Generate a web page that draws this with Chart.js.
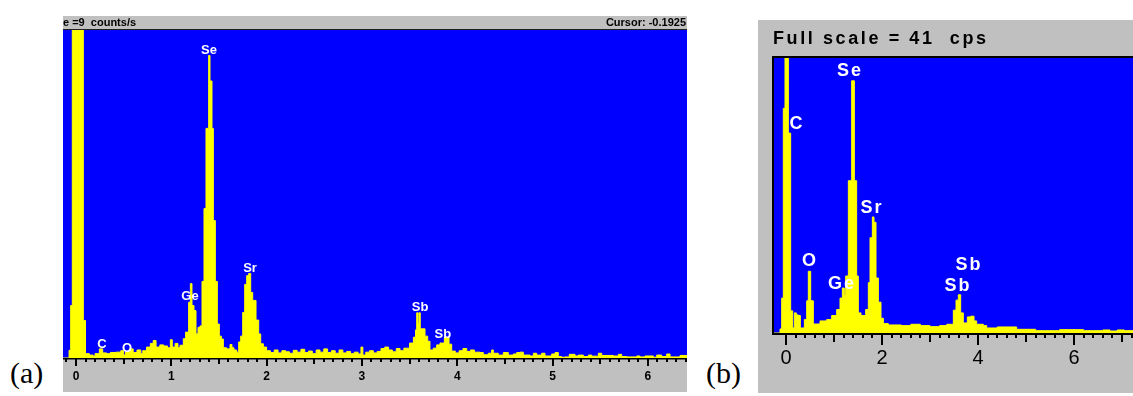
<!DOCTYPE html>
<html>
<head>
<meta charset="utf-8">
<script src="https://cdn.jsdelivr.net/npm/chart.js@4.4.1/dist/chart.umd.min.js"></script>
<style>
html,body{margin:0;padding:0;background:#fff;width:1133px;height:396px;overflow:hidden;position:relative;}
.abs{position:absolute;}
#panelA{left:63px;top:16px;width:624px;height:376px;background:#c0c0c0;}
#panelB{left:758px;top:20px;width:375px;height:373px;background:#c0c0c0;}
canvas{display:block;}
.hdrA{font-family:'Liberation Sans',Arial,sans-serif;font-weight:bold;font-size:11px;line-height:13px;color:#000;white-space:pre;}
.hdrB{font-family:'Liberation Sans',Arial,sans-serif;font-weight:bold;font-size:18px;line-height:22px;letter-spacing:2.6px;color:#000;white-space:pre;}
.plab{font-family:'Liberation Serif','Times New Roman',serif;font-size:30px;line-height:34px;color:#000;}
</style>
</head>
<body>
<div id="panelA" class="abs"><canvas id="cA" width="624" height="376"></canvas></div>
<div id="panelB" class="abs"><canvas id="cB" width="375" height="373"></canvas></div>
<div class="abs hdrA" style="left:63px;top:16px;">e =9  counts/s</div>
<div class="abs hdrA" style="right:447px;top:16px;text-align:right;">Cursor: -0.1925</div>
<div class="abs hdrB" style="left:773px;top:27px;">Full scale = 41  cps</div>
<div class="abs plab" style="left:10px;top:356px;">(a)</div>
<div class="abs plab" style="left:706px;top:356px;">(b)</div>
<script>
// ---------- Panel (a): energy (keV, bin start) and count rate (counts/s) ----------
const energyA = [
 -0.14,-0.073,-0.056,-0.039,0.077,0.10,0.14,0.18,0.20,0.245,0.28,0.32,0.36,0.42,0.47,0.50,0.52,0.56,0.60,0.64,
 0.68,0.70,0.74,0.78,0.81,0.84,0.88,0.92,0.96,0.99,1.01,1.04,1.07,1.091,1.126,1.150,1.182,1.200,1.217,1.238,
 1.259,1.280,1.301,1.322,1.343,1.364,1.392,1.406,1.427,1.441,1.462,1.483,1.504,1.525,1.546,1.581,1.616,1.637,1.658,1.686,
 1.707,1.728,1.749,1.770,1.791,1.812,1.833,1.854,1.889,1.917,1.938,1.966,2.00,2.04,2.08,2.12,2.16,2.20,2.24,2.28,
 2.32,2.36,2.40,2.44,2.48,2.52,2.56,2.60,2.64,2.68,2.72,2.76,2.80,2.84,2.88,2.92,2.96,2.99,3.01,3.04,
 3.08,3.12,3.16,3.20,3.24,3.28,3.32,3.36,3.40,3.44,3.50,3.54,3.562,3.575,3.588,3.598,3.612,3.662,3.690,3.714,
 3.749,3.784,3.819,3.865,3.914,3.942,3.98,4.02,4.06,4.10,4.14,4.18,4.239,4.274,4.326,4.361,4.379,4.431,4.484,4.536,
 4.589,4.624,4.659,4.694,4.764,4.799,4.834,4.886,4.921,4.991,5.026,5.061,5.096,5.131,5.176,5.236,5.271,5.323,5.376,5.411,
 5.481,5.516,5.638,5.691,5.726,5.778,5.883,5.918,5.970,6.058,6.093,6.145,6.198,6.233,6.338,6.42
];
const countsA = [
 0,0.21,1.44,12,1.03,0.12,0.08,0.05,0.12,0.25,0.14,0.12,0.15,0.16,0.20,0.08,0.17,0.25,0.15,0.22,
 0.12,0.20,0.30,0.40,0.48,0.30,0.36,0.33,0.28,0.50,0.30,0.40,0.28,0.35,0.53,0.71,1.53,2.04,1.44,1.30,
 0.66,0.84,0.88,2.10,4.10,6.30,8.30,7.60,6.30,3.77,2.10,0.93,0.60,0.52,0.28,0.25,0.37,0.28,0.22,0.16,
 0.44,0.60,1.25,2.02,2.26,2.32,1.80,1.58,1.04,0.66,0.39,0.30,0.20,0.15,0.22,0.14,0.20,0.17,0.13,0.21,
 0.16,0.24,0.15,0.19,0.12,0.22,0.16,0.25,0.15,0.20,0.13,0.22,0.14,0.18,0.12,0.16,0.11,0.30,0.08,0.16,
 0.20,0.14,0.18,0.26,0.30,0.22,0.17,0.26,0.20,0.27,0.41,0.57,0.77,1.24,0.95,1.24,0.80,0.60,0.46,0.22,
 0.27,0.36,0.41,0.57,0.38,0.19,0.14,0.20,0.26,0.18,0.22,0.16,0.15,0.09,0.13,0.22,0.13,0.08,0.15,0.08,
 0.11,0.15,0.16,0.08,0.055,0.13,0.08,0.13,0.055,0.11,0.15,0.04,0.02,0.03,0.10,0.055,0.08,0.04,0.08,0.05,
 0.13,0.07,0.055,0.10,0.04,0.03,0.055,0.03,0.055,0.02,0.08,0.04,0.11,0.03,0.07,0.07
];
const ticksA = [0,1,2,3,4,5,6];
const peakNamesA = ['Se','Ge','Sr','C','O','Sb','Sb'];
const peakKeVA   = [1.396,1.196,1.826,0.273,0.535,3.61,3.85];
const peakCpsA   = [8.45,1.70,2.46,0.36,0.27,1.39,0.66];

// ---------- Panel (b): energy (keV, bin start) and count rate (cps) ----------
const energyB = [
 -0.25,-0.125,-0.090,-0.056,-0.021,0.049,0.097,0.139,0.174,0.215,0.257,0.299,0.382,0.431,0.465,0.514,0.569,0.708,0.847,0.951,
 1.056,1.125,1.174,1.215,1.243,1.299,1.368,1.424,1.472,1.507,1.563,1.660,1.715,1.750,1.799,1.833,1.875,1.924,1.979,2.028,
 2.132,2.4,2.6,2.8,3.0,3.2,3.35,3.486,3.542,3.590,3.639,3.694,3.778,3.847,3.917,3.972,4.111,4.181,4.4,4.806,
 5.2,5.7,6.2,6.6,6.75,6.9,7.05,7.23
];
const countsB = [
 0,0.6,5.2,33.5,60,29.8,3.3,0.75,3.0,2.7,2.6,0.75,2.0,4.8,9.2,4.8,1.34,1.8,2.0,2.6,
 3.5,5.2,6.7,5.7,8.5,22.7,37.6,22.7,8.5,3.0,2.6,3.5,7.5,14.2,17.3,16.5,8.2,4.6,2.2,1.4,
 1.2,1.1,1.3,1.1,0.95,1.1,1.3,3.4,4.9,5.7,3.0,1.5,2.4,2.5,1.8,1.3,1.1,0.75,0.9,0.55,
 0.35,0.5,0.35,0.45,0.3,0.45,0.35,0.35
];
const ticksB = [0,2,4,6];
const peakNamesB = ['Se','C','O','Ge','Sr','Sb','Sb'];
const peakKeVB   = [1.333,0.229,0.50,1.167,1.792,3.81,3.583];
const peakCpsB   = [39.06,31.16,10.73,7.31,18.64,10.14,7.01];

function pts(xs, ys){ const n=Math.min(xs.length, ys.length); const out=[]; for(let i=0;i<n;i++) out.push({x:xs[i], y:ys[i]}); return out; }

function panelPlugin(o){
  return {
    id:'panel_'+o.name,
    beforeDatasetsDraw(chart){
      const a=chart.chartArea, c=chart.ctx;
      c.save(); c.fillStyle='#0000ff'; c.fillRect(a.left,a.top,a.right-a.left,a.bottom-a.top); c.restore();
    },
    afterDraw(chart){
      const a=chart.chartArea, c=chart.ctx, xs=chart.scales.x, ys=chart.scales.y;
      c.save();
      c.fillStyle='#000';
      if(o.name==='A'){
        c.fillStyle='#202020';
        c.fillRect(a.left, a.top-1, a.right-a.left, 1);
        c.fillStyle='#000';
        c.fillRect(a.left, a.bottom, a.right-a.left, 1.5);
      } else {
        c.fillRect(a.left-2, a.top-2, 2, a.bottom-a.top+4);
        c.fillRect(a.left-2, a.top-2, a.right-a.left+2, 2);
        c.fillRect(a.left-2, a.bottom, a.right-a.left+2, 2);
      }
      const kmin=Math.ceil(xs.min/o.minor), kmax=Math.floor(xs.max/o.minor);
      for(let k=kmin;k<=kmax;k++){
        if(k<o.firstK) continue;
        const v=k*o.minor, px=xs.getPixelForValue(v);
        let len=o.lenMinor;
        if(k%o.majorEvery===0) len=o.lenMajor; else if(k%o.midEvery===0) len=o.lenMid;
        c.fillRect(Math.round(px)-1, a.bottom, 2, len);
      }
      c.font=o.tickFont; c.textAlign='center'; c.textBaseline='middle'; c.fillStyle='#000';
      o.ticks.forEach(t=>{ c.fillText(String(t), xs.getPixelForValue(t), a.bottom+o.labelOffset); });
      c.font=o.peakFont; c.fillStyle='#ffffff';
      if(o.peakSpacing) c.letterSpacing=o.peakSpacing;
      o.names.forEach((nm,i)=>{ c.fillText(nm, xs.getPixelForValue(o.keV[i]), ys.getPixelForValue(o.cps[i])); });
      c.restore();
    }
  };
}

function makeChart(id, xsArr, ysArr, xmin, xmax, ymax, pad, plug){
  return new Chart(document.getElementById(id), {
    type:'line',
    data:{datasets:[{data:pts(xsArr, ysArr), stepped:true, fill:'origin',
      backgroundColor:'#ffff00', borderColor:'#ffff00', borderWidth:1, pointRadius:0, clip:0}]},
    options:{responsive:false, animation:false, devicePixelRatio:1,
      layout:{padding:pad},
      scales:{x:{type:'linear', min:xmin, max:xmax, display:false},
              y:{type:'linear', min:0, max:ymax, display:false}},
      plugins:{legend:{display:false}, tooltip:{enabled:false}, title:{display:false}}},
    plugins:[plug]
  });
}

makeChart('cA', energyA, countsA, -0.1364, 6.411, 9, {top:14,bottom:34,left:0,right:0},
  panelPlugin({name:'A', minor:0.1, firstK:-1, majorEvery:10, midEvery:5, lenMajor:8, lenMid:6, lenMinor:4,
    ticks:ticksA, labelOffset:19, tickFont:"bold 12px 'Liberation Sans', Arial, sans-serif",
    peakFont:"bold 13px 'Liberation Sans', Arial, sans-serif", names:peakNamesA, keV:peakKeVA, cps:peakCpsA}));

makeChart('cB', energyB, countsB, -0.25, 7.229, 41, {top:38,bottom:60,left:16,right:0},
  panelPlugin({name:'B', minor:0.2, firstK:0, majorEvery:10, midEvery:5, lenMajor:12, lenMid:9, lenMinor:5,
    ticks:ticksB, labelOffset:25, tickFont:"20px 'Liberation Sans', Arial, sans-serif",
    peakFont:"bold 18px 'Liberation Sans', Arial, sans-serif", peakSpacing:'2px', names:peakNamesB, keV:peakKeVB, cps:peakCpsB}));
</script>
</body>
</html>
